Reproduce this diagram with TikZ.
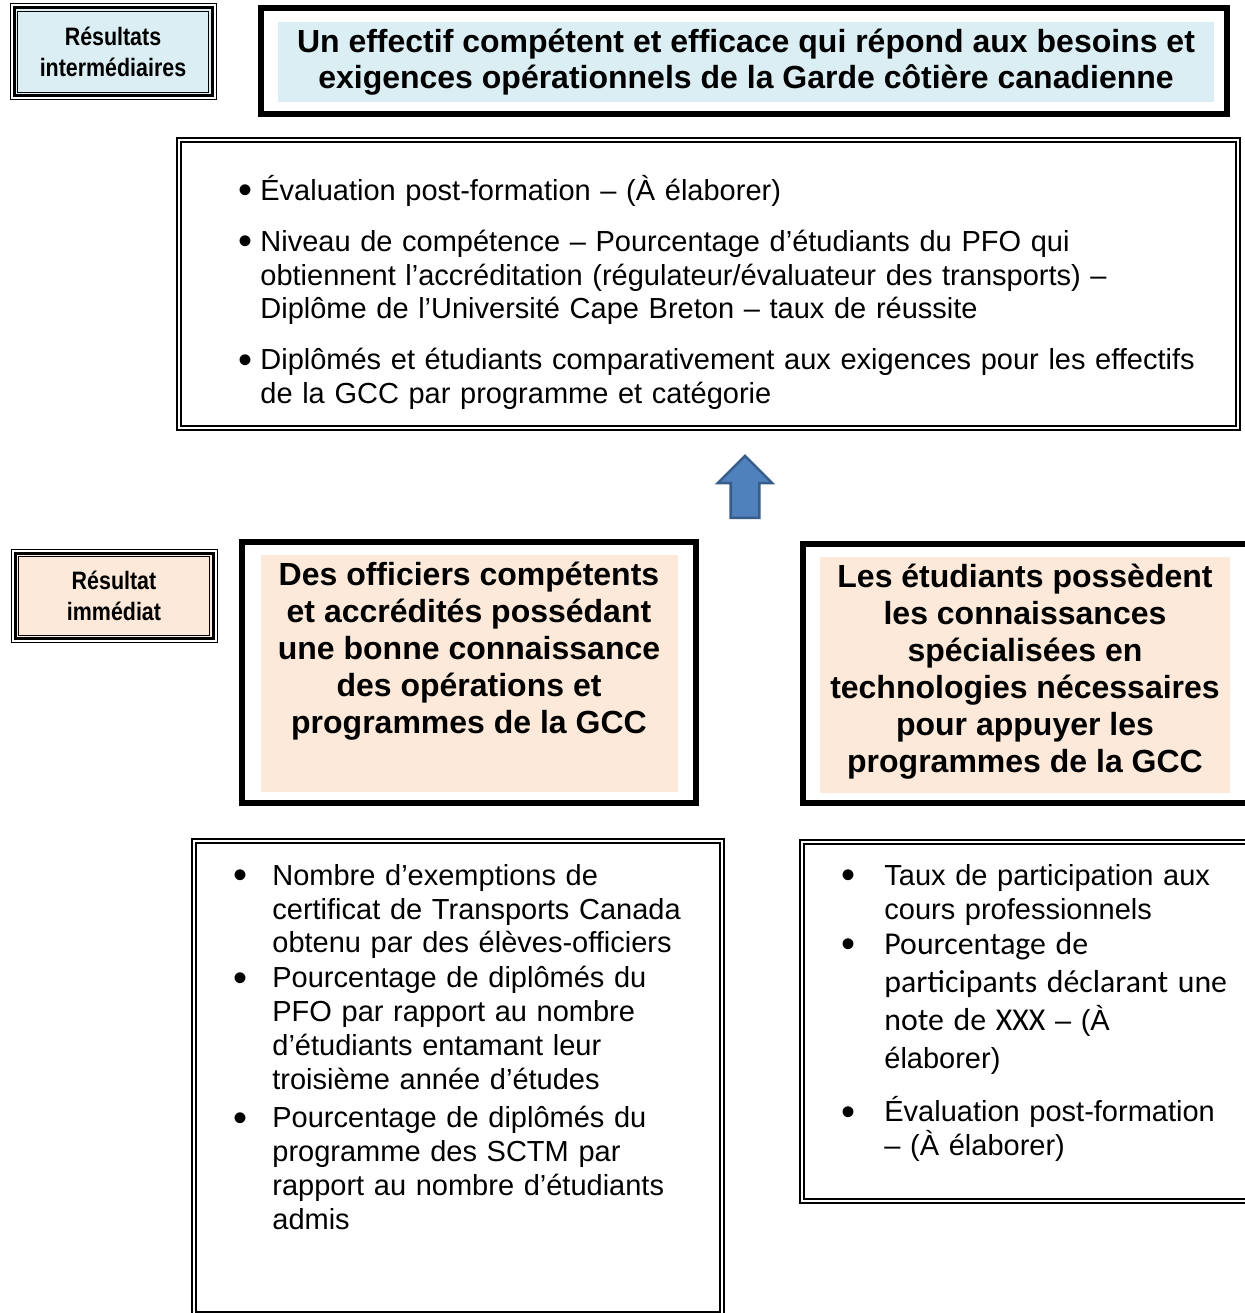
\documentclass[tikz,border=0pt]{standalone}
\usepackage{fontspec}
\setmainfont{Liberation Sans}
\newfontfamily\carlito{Carlito}
\newfontfamily\narrowsans[FakeStretch=0.85]{Liberation Sans}
\usepackage{enumitem}
\usepackage{xcolor}
\usetikzlibrary{shapes.arrows, positioning}

\definecolor{bleupale}{HTML}{DBEEF4}
\definecolor{peche}{HTML}{FDE9D9}
\definecolor{flechefond}{HTML}{4F81BD}
\definecolor{flechebord}{HTML}{385D8A}

\newcommand{\puce}{\raisebox{-1.8pt}{\fontsize{20}{20}\selectfont\textbullet}}
\setlist[itemize]{label=\puce, topsep=0pt, partopsep=0pt, parsep=0pt, itemsep=0pt, labelindent=0pt, align=right}

\tikzset{
  etiquette/.style={draw, line width=1.5pt, inner sep=0pt, outer sep=0pt, align=center,
    font=\narrowsans\bfseries\fontsize{12.6}{15.5}\selectfont},
  cadre/.style={draw, line width=3pt, inner sep=0pt, outer sep=0pt},
  titre/.style={inner sep=0pt, outer sep=0pt, align=center, font=\bfseries\fontsize{16}{17.75}\selectfont},
  restexte/.style={anchor=north, inner sep=0pt, align=center, font=\bfseries\fontsize{16}{18.5}\selectfont},
  indic/.style={draw, double, double distance=1pt, line width=1pt, inner sep=0pt, outer sep=0pt},
  liste/.style={anchor=north west, inner sep=0pt, align=left, font=\fontsize{14.5}{16.9}\selectfont},
  fleche/.style={single arrow, shape border rotate=90, fill=flechefond, draw=flechebord,
    line width=1.3pt, inner sep=6.5pt, minimum height=31pt, minimum width=26pt,
    single arrow head extend=6.5pt},
}

\begin{document}
\begin{tikzpicture}[x=0.5pt,y=-0.5pt]
\useasboundingbox (0,0) rectangle (1245,1313);

% niveau intermediaire
\node[etiquette, fill=bleupale, minimum width=99pt, minimum height=44pt] (resint) at (113,51.5) {Résultats\\intermédiaires};
\node[cadre, minimum width=483pt, minimum height=53pt] (goal) at (744,61) {};
\node[titre, fill=bleupale, minimum width=468pt, minimum height=40pt] (goaltxt) at (746,62)
  {Un effectif compétent et efficace qui répond aux besoins et\\exigences opérationnels de la Garde côtière canadienne};

\node[indic, minimum width=529.75pt, minimum height=144pt] (ind1) at (708.25,284) {};
\node[liste, text width=490pt] (ind1txt) at (230,166) {%
\begin{itemize}[leftmargin=15pt, labelsep=4pt, labelwidth=11pt, itemsep=8.6pt]
\item Évaluation post-formation – (À élaborer)
\item Niveau de compétence – Pourcentage d’étudiants du PFO qui\\
obtiennent l’accréditation (régulateur/évaluateur des transports) –\\
Diplôme de l’Université Cape Breton – taux de réussite
\item Diplômés et étudiants comparativement aux exigences pour les effectifs\\
de la GCC par programme et catégorie
\end{itemize}};

% fleche
\node[fleche] (fleche) at (745,494) {};

% niveau immediat
\node[etiquette, fill=peche, minimum width=99pt, minimum height=42.75pt] (resimm) at (114,595.75) {Résultat\\immédiat};

\node[cadre, minimum width=227pt, minimum height=130.5pt] (res1) at (469,672.5) {};
\node[fill=peche, inner sep=0pt, minimum width=208.5pt, minimum height=118.5pt] (res1fond) at (469.5,673.5) {};
\node[restexte] (res1txt) at (469,562) {Des officiers compétents\\et accrédités possédant\\une bonne connaissance\\des opérations et\\programmes de la GCC};

\node[cadre, minimum width=226pt, minimum height=129.5pt] (res2) at (1029,673.5) {};
\node[fill=peche, inner sep=0pt, minimum width=205pt, minimum height=118pt] (res2fond) at (1025,675) {};
\node[restexte] (res2txt) at (1025,564) {Les étudiants possèdent\\les connaissances\\spécialisées en\\technologies nécessaires\\pour appuyer les\\programmes de la GCC};

% indicateurs immediats
\node[indic, minimum width=264pt, minimum height=236.5pt] (ind2) at (458,1077.5) {};
\node[liste, text width=245pt] (ind2txt) at (225,851) {%
\begin{itemize}[leftmargin=23.5pt, labelsep=12.5pt, labelwidth=11pt, itemsep=0.5pt]
\item Nombre d’exemptions de\\
certificat de Transports Canada\\
obtenu par des élèves-officiers
\item Pourcentage de diplômés du\\
PFO par rapport au nombre\\
d’étudiants entamant leur\\
troisième année d’études
\vspace{2pt}
\item Pourcentage de diplômés du\\
programme des SCTM par\\
rapport au nombre d’étudiants\\
admis
\end{itemize}};

\node[indic, minimum width=229pt, minimum height=179.5pt] (ind3) at (1031,1021.5) {};
\node[liste, text width=210pt] (ind3txt) at (835,851) {%
\begin{itemize}[leftmargin=24.5pt, labelsep=14.5pt, labelwidth=10pt, itemsep=-1.5pt]
\item Taux de participation aux\\
cours professionnels
\item \fontsize{14.5}{19}\selectfont{\carlito\fontsize{15.9}{19}\selectfont Pourcentage de\\
participants déclarant une\\
note de XXX} – (À\\
élaborer)
\vspace{11.5pt}
\item \fontsize{14.5}{16.9}\selectfont Évaluation post-formation\\
– (À élaborer)
\end{itemize}};

% filets des etiquettes
\foreach \n in {resint,resimm} {
  \draw[line width=0.5pt] ([shift={(-2pt,2pt)}]\n.north west) rectangle ([shift={(2pt,-2pt)}]\n.south east);
  \draw[line width=0.5pt] ([shift={(1.75pt,-1.75pt)}]\n.north west) rectangle ([shift={(-1.75pt,1.75pt)}]\n.south east);
}
\end{tikzpicture}
\end{document}
